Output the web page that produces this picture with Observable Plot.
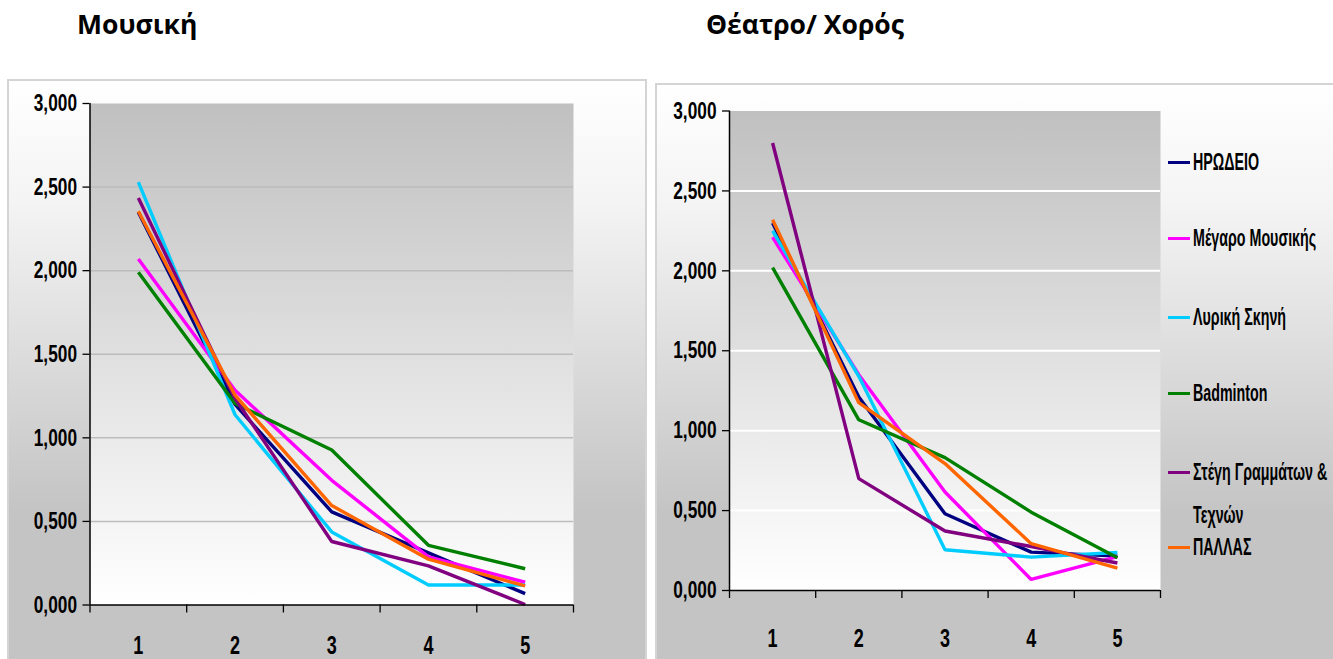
<!DOCTYPE html>
<html>
<head>
<meta charset="utf-8">
<script src="https://cdn.jsdelivr.net/npm/d3@7"></script>
<script src="https://cdn.jsdelivr.net/npm/@observablehq/plot@0.6"></script>
<style>
  html, body { margin: 0; padding: 0; background: #fff; }
  body { width: 1333px; height: 659px; overflow: hidden; position: relative; }
  .title { position: absolute; font-family: "Open Sans", "Noto Sans", sans-serif; font-weight: 700; font-size: 26.5px; color: #000; line-height: 1; white-space: nowrap; }
  .frame { position: absolute; box-sizing: border-box; border: 2px solid #d4d4d4; overflow: hidden;
           background: linear-gradient(to bottom, #ffffff 0px, #f4f4f4 120px, #c4c4c4 430px, #c4c4c4 100%); }
  .frame svg { position: absolute; left: 0; top: 0; background: transparent; overflow: visible; }
  .leg { position: absolute; left: 1168px; height: 0; }
  .leg .sw { position: absolute; left: 0; top: -1.5px; width: 22px; height: 3px; }
  .leg .tx { position: absolute; left: 25px; top: 0; transform-origin: 0 50%; transform: translateY(-50%) scaleX(0.62);
             font-family: "Liberation Sans", Arial, sans-serif; font-size: 23px; font-weight: 700; color: #000; white-space: nowrap; line-height: 1; }
</style>
</head>
<body>
<div class="title" style="left:77px; top:11px;">Μουσική</div>
<div class="title" style="left:706px; top:11px;">Θέατρο/ Χορός</div>
<div class="frame" id="f1" style="left:7px; top:79px; width:640px; height:600px;"></div>
<div class="frame" id="f2" style="left:655px; top:83px; width:690px; height:600px;"></div>
<div id="legend"></div>
<script>
// ---------- data ----------
const categories = [1, 2, 3, 4, 5];
const seriesNames = ["ΗΡΩΔΕΙΟ", "Μέγαρο Μουσικής", "Λυρική Σκηνή", "Badminton", "Στέγη Γραμμάτων & Τεχνών", "ΠΑΛΛΑΣ"];
const seriesColors = ["#000080", "#ff00ff", "#00ccff", "#008000", "#800080", "#ff6600"];
const yTicks = [0, 0.5, 1, 1.5, 2, 2.5, 3];
const xBoundaryTicks = [0.5, 1.5, 2.5, 3.5, 4.5, 5.5];

// Μουσική
const musicHerodeio = [2.350, 1.200, 0.557, 0.312, 0.068];
const musicMegaro   = [2.070, 1.285, 0.746, 0.288, 0.136];
const musicLyriki   = [2.530, 1.138, 0.437, 0.120, 0.120];
const musicBadminton= [1.990, 1.205, 0.927, 0.357, 0.217];
const musicStegi    = [2.435, 1.235, 0.380, 0.234, 0.003];
const musicPallas   = [2.355, 1.255, 0.595, 0.274, 0.114];

// Θέατρο/ Χορός
const theatreHerodeio = [2.300, 1.210, 0.480, 0.240, 0.215];
const theatreMegaro   = [2.210, 1.350, 0.616, 0.069, 0.212];
const theatreLyriki   = [2.250, 1.340, 0.255, 0.209, 0.238];
const theatreBadminton= [2.020, 1.068, 0.831, 0.490, 0.205];
const theatreStegi    = [2.800, 0.700, 0.372, 0.275, 0.172];
const theatrePallas   = [2.320, 1.175, 0.794, 0.293, 0.140];

function tidy(list) {
  const out = [];
  list.forEach((vals, s) => categories.forEach((c, i) => out.push({cat: c, value: vals[i], series: seriesNames[s]})));
  return out;
}
const musicData = tidy([musicHerodeio, musicMegaro, musicLyriki, musicBadminton, musicStegi, musicPallas]);
const theatreData = tidy([theatreHerodeio, theatreMegaro, theatreLyriki, theatreBadminton, theatreStegi, theatrePallas]);

const fmt = d => d.toFixed(3).replace(".", ",");
const fontFamily = '"Liberation Sans", Arial, sans-serif';

// condense axis tick labels horizontally (Arial Narrow look) without moving them
function narrowText(svg, sx) {
  svg.querySelectorAll('g[aria-label$="tick label"] text').forEach(t => {
    const L = t.getComputedTextLength();
    if (L > 0) {
      t.setAttribute("textLength", (L * sx).toFixed(2));
      t.setAttribute("lengthAdjust", "spacingAndGlyphs");
    }
  });
}

function chart(data, opts) {
  const svg = Plot.plot({
    width: opts.width, height: opts.height,
    marginLeft: opts.ml, marginRight: opts.mr, marginTop: opts.mt, marginBottom: opts.mb,
    style: {background: "transparent", fontFamily, fontWeight: "bold", fontSize: "24px", color: "#000", overflow: "visible"},
    x: {type: "linear", domain: [0.5, 5.5], label: null},
    y: {domain: [0, 3], label: null},
    color: {domain: seriesNames, range: seriesColors},
    marks: [
      Plot.frame({fill: `url(#${opts.gid})`, stroke: "none"}),
      Plot.ruleY(yTicks.filter(d => d > 0 && d < 3), {stroke: opts.grid, strokeWidth: opts.gridW}),
      Plot.line(data, {x: "cat", y: "value", z: "series", stroke: "series", strokeWidth: 3.4, strokeLinejoin: "miter", strokeLinecap: "butt"}),
      Plot.ruleX([0.5], {stroke: "#000", strokeWidth: 1.5}),
      Plot.ruleY([0], {stroke: "#000", strokeWidth: 1.5}),
      Plot.axisY(yTicks, {tickSize: 7, tickPadding: 6, tickFormat: fmt, stroke: "#000", strokeWidth: 1.3, fontSize: 24, fontWeight: "bold"}),
      Plot.axisX(xBoundaryTicks, {tickSize: 8, tickFormat: () => "", stroke: "#000", strokeWidth: 1.3}),
      Plot.axisX(categories, {tickSize: 0, tickPadding: opts.xPad, tickFormat: d => String(d), fontSize: 25, fontWeight: "bold"})
    ]
  });
  const defs = d3.select(svg).insert("defs", ":first-child");
  const g = defs.append("linearGradient").attr("id", opts.gid).attr("x1", 0).attr("y1", 0).attr("x2", 0).attr("y2", 1);
  g.append("stop").attr("offset", "0%").attr("stop-color", "#c0c0c0");
  g.append("stop").attr("offset", "100%").attr("stop-color", "#ffffff");
  return svg;
}

const svg1 = chart(musicData, {
  width: 636, height: 578, ml: 80.5, mr: 72, mt: 22, mb: 54.5, gid: "gradMusic", grid: "#bcbcbc", gridW: 1.5, xPad: 31
});
document.getElementById("f1").appendChild(svg1);
const svg2 = chart(theatreData, {
  width: 676, height: 574, ml: 72, mr: 173, mt: 25.5, mb: 69, gid: "gradTheatre", grid: "#ffffff", gridW: 2, xPad: 39
});
document.getElementById("f2").appendChild(svg2);
narrowText(svg1, 0.72);
narrowText(svg2, 0.72);

// ---------- legend (HTML, beside the right plot) ----------
const legendRowsY = [162, 238, 317, 393, 472, 547];
const legendLines = [["ΗΡΩΔΕΙΟ"], ["Μέγαρο Μουσικής"], ["Λυρική Σκηνή"], ["Badminton"], ["Στέγη Γραμμάτων &", "Τεχνών"], ["ΠΑΛΛΑΣ"]];
const legend = document.getElementById("legend");
seriesNames.forEach((name, i) => {
  const row = document.createElement("div");
  row.className = "leg";
  row.style.top = legendRowsY[i] + "px";
  const sw = document.createElement("div");
  sw.className = "sw";
  sw.style.background = seriesColors[i];
  row.appendChild(sw);
  legendLines[i].forEach((line, k) => {
    const tx = document.createElement("div");
    tx.className = "tx";
    tx.style.top = (k * 43) + "px";
    tx.textContent = line;
    row.appendChild(tx);
  });
  legend.appendChild(row);
});
</script>
</body>
</html>
